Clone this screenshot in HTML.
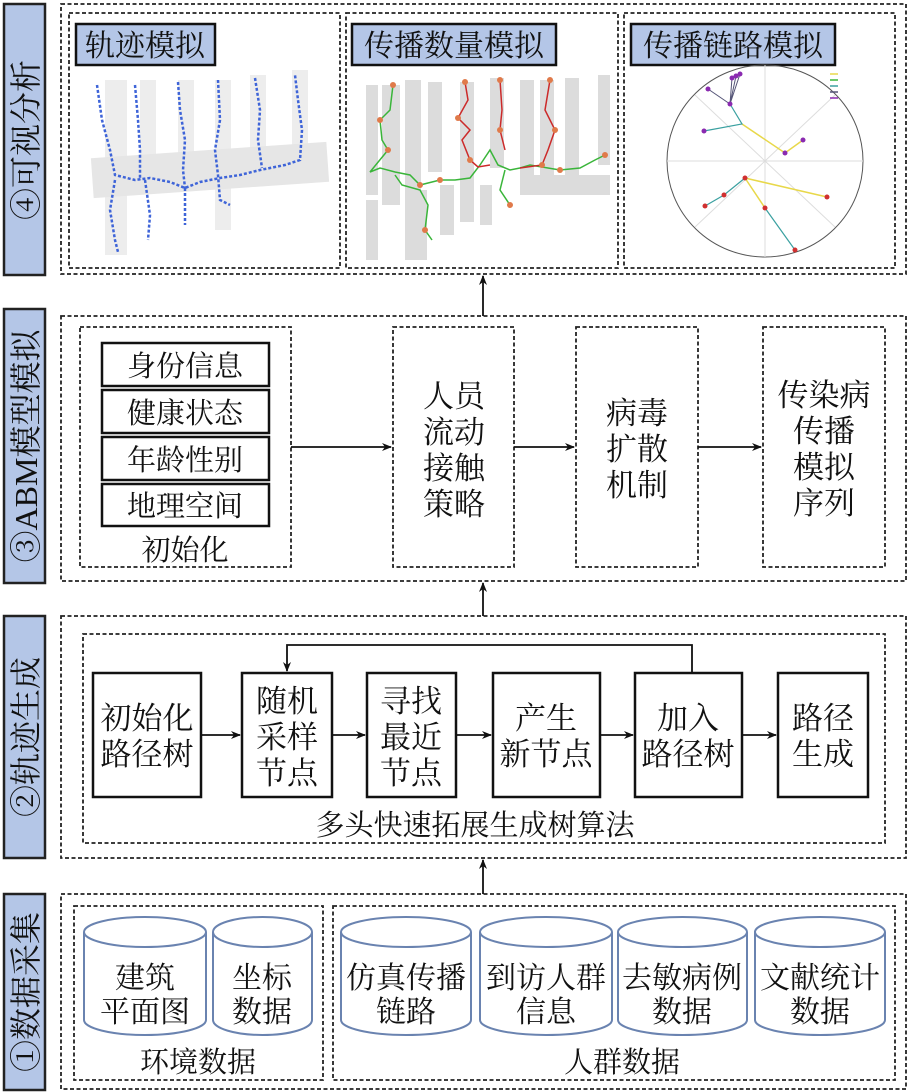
<!DOCTYPE html>
<html><head><meta charset="utf-8"><style>
html,body{margin:0;padding:0;background:#fff}
svg{display:block}
text{font-family:"Liberation Serif","Noto Serif CJK SC",serif;fill:#111}
</style></head><body>
<svg width="909" height="1092" viewBox="0 0 909 1092" xmlns="http://www.w3.org/2000/svg">
<defs>
<marker id="ah" markerWidth="10" markerHeight="8" refX="9" refY="4" orient="auto" markerUnits="userSpaceOnUse">
<path d="M0,0 L10,4 L0,8 L3,4 Z" fill="#111"/></marker>
</defs>
<g fill="#b4c6e7" stroke="#222" stroke-width="2.5">
<rect x="4" y="4" width="41" height="271"/>
<rect x="4" y="309" width="41" height="274"/>
<rect x="4" y="616" width="41" height="242"/>
<rect x="4" y="894" width="41" height="196"/>
</g>
<g font-size="32">
<text transform="translate(37,140) rotate(-90)" text-anchor="middle">④可视分析</text>
<text transform="translate(37,446) rotate(-90)" text-anchor="middle">③ABM模型模拟</text>
<text transform="translate(37,737) rotate(-90)" text-anchor="middle">②轨迹生成</text>
<text transform="translate(37,992) rotate(-90)" text-anchor="middle">①数据采集</text>
</g>
<g fill="none" stroke="#222" stroke-width="1.8" stroke-dasharray="4,2.5">
<rect x="61" y="4" width="845" height="270"/>
<rect x="69" y="13" width="271" height="255"/>
<rect x="346" y="13" width="272" height="255"/>
<rect x="624" y="13" width="271" height="255"/>
<rect x="61" y="316" width="845" height="265"/>
<rect x="80" y="327" width="211" height="240"/>
<rect x="393" y="327" width="121" height="240"/>
<rect x="576" y="327" width="122" height="240"/>
<rect x="763" y="327" width="122" height="240"/>
<rect x="61" y="616" width="845" height="242"/>
<rect x="83" y="634" width="802" height="209"/>
<rect x="61" y="894" width="845" height="195"/>
<rect x="74" y="906" width="249" height="174"/>
<rect x="333" y="906" width="562" height="174"/>
</g>
<g fill="#b4c6e7" stroke="#111" stroke-width="2.5">
<rect x="76" y="24" width="139" height="41"/>
<rect x="352" y="24" width="204" height="41"/>
<rect x="631" y="24" width="204" height="41"/>
</g>
<g font-size="30">
<text x="145" y="56" text-anchor="middle">轨迹模拟</text>
<text x="454" y="56" text-anchor="middle">传播数量模拟</text>
<text x="733" y="56" text-anchor="middle">传播链路模拟</text>
</g>
<!-- image 1 -->
<g fill="#e6e6e6">
<rect x="92" y="150" width="236" height="40" transform="rotate(-4 210 170)"/>
<rect x="105" y="80" width="22" height="175" opacity=".7"/>
<rect x="140" y="80" width="16" height="95" opacity=".7"/>
<rect x="178" y="80" width="16" height="95" opacity=".7"/>
<rect x="215" y="80" width="16" height="150" opacity=".7"/>
<rect x="250" y="75" width="16" height="90" opacity=".7"/>
<rect x="292" y="70" width="16" height="95" opacity=".7"/>
</g>
<g fill="none" stroke="#3e64d8" stroke-width="2.5" stroke-dasharray="3,2">
<polyline points="97,85 102,120 110,150 115,175 135,180 150,178 170,182 185,188 200,182 220,178 240,175 260,170 285,165 300,160 302,130 298,100 295,75"/>
<polyline points="135,85 138,120 140,150 140,180"/>
<polyline points="178,82 180,110 185,140 183,170 185,188"/>
<polyline points="218,80 220,120 215,150 218,175 220,200 230,205"/>
<polyline points="255,78 260,110 258,140 262,168"/>
<polyline points="115,180 110,210 115,240 118,252"/>
<polyline points="145,180 150,215 148,240"/>
<polyline points="185,188 185,225"/>
</g>
<!-- image 2 -->
<g fill="#dcdcdc">
<rect x="366" y="85" width="12" height="110"/><rect x="382" y="85" width="18" height="120"/>
<rect x="405" y="80" width="16" height="130"/><rect x="428" y="82" width="14" height="90"/>
<rect x="460" y="82" width="14" height="140"/><rect x="490" y="78" width="14" height="90"/>
<rect x="520" y="80" width="14" height="110"/><rect x="540" y="80" width="14" height="100"/>
<rect x="565" y="78" width="14" height="110"/><rect x="598" y="75" width="12" height="90"/>
<rect x="366" y="200" width="12" height="60"/><rect x="405" y="190" width="22" height="70"/>
<rect x="440" y="185" width="14" height="50"/><rect x="480" y="185" width="12" height="40"/>
<rect x="520" y="175" width="90" height="20"/>
</g>
<g fill="none" stroke-width="1.5">
<polyline stroke="#3ab53a" points="393,85 390,110 380,120 382,140 388,150 370,172 380,168 395,172 410,175 420,185 440,180 455,180 470,178 480,165 490,150 498,165 510,170 520,168 530,165 560,170 580,168 595,160 605,155"/>
<polyline stroke="#3ab53a" points="395,175 402,185 420,190 428,205 425,230 432,240"/>
<polyline stroke="#3ab53a" points="505,170 500,190 510,205"/>
<polyline stroke="#cc2a2a" points="465,82 468,100 458,118 470,130 462,140 470,160 478,167 490,165"/>
<polyline stroke="#cc2a2a" points="500,80 502,110 500,130 505,150"/>
<polyline stroke="#cc2a2a" points="550,80 545,110 555,130 548,150 542,165 520,168"/>
</g>
<g fill="#e07a4a">
<circle cx="393" cy="85" r="3"/><circle cx="380" cy="120" r="3"/><circle cx="388" cy="150" r="3"/><circle cx="420" cy="185" r="3"/><circle cx="440" cy="180" r="3"/><circle cx="465" cy="82" r="3"/><circle cx="458" cy="118" r="3"/><circle cx="470" cy="160" r="3"/><circle cx="500" cy="80" r="3"/><circle cx="500" cy="130" r="3"/><circle cx="550" cy="80" r="3"/><circle cx="555" cy="130" r="3"/><circle cx="542" cy="165" r="3"/><circle cx="425" cy="230" r="3"/><circle cx="605" cy="155" r="3"/><circle cx="560" cy="170" r="3"/><circle cx="510" cy="205" r="3"/>
</g>
<!-- image 3 -->
<g fill="none">
<ellipse cx="765" cy="161" rx="98" ry="96" stroke="#555" stroke-width="1"/>
<g stroke="#ddd" stroke-width="1"><line x1="667" y1="161" x2="863" y2="161"/><line x1="765" y1="65" x2="765" y2="257"/><line x1="695" y1="95" x2="835" y2="227"/><line x1="695" y1="227" x2="835" y2="95"/></g>
<polyline stroke="#e8d84a" stroke-width="1.5" points="742,124 785,153 803,140"/>
<polyline stroke="#e8d84a" stroke-width="1.5" points="745,178 827,197"/>
<polyline stroke="#e8d84a" stroke-width="1.5" points="745,178 765,208"/>
<polyline stroke="#3aa0a0" stroke-width="1.2" points="730,104 742,124 704,131"/>
<polyline stroke="#3aa0a0" stroke-width="1.2" points="765,208 795,250"/>
<polyline stroke="#3aa0a0" stroke-width="1.2" points="745,178 724,195 705,206"/>
<polyline stroke="#557" stroke-width="1" points="708,89 730,104 732,78 730,104 736,76 730,104 740,74"/>
</g>
<g fill="#8a2ab0"><circle cx="708" cy="89" r="2.5"/><circle cx="732" cy="78" r="2.5"/><circle cx="736" cy="76" r="2.5"/><circle cx="740" cy="74" r="2.5"/><circle cx="730" cy="104" r="2.5"/><circle cx="704" cy="131" r="2.5"/><circle cx="803" cy="140" r="2.5"/><circle cx="785" cy="153" r="2.5"/></g>
<g fill="#d03030"><circle cx="745" cy="178" r="2.5"/><circle cx="724" cy="195" r="2.5"/><circle cx="705" cy="206" r="2.5"/><circle cx="827" cy="197" r="2.5"/><circle cx="765" cy="208" r="2.5"/><circle cx="795" cy="250" r="2.5"/></g>
<g stroke-width="1.5"><line x1="830" y1="74" x2="838" y2="74" stroke="#e8d84a"/><line x1="830" y1="80" x2="838" y2="80" stroke="#3ab53a"/><line x1="830" y1="86" x2="838" y2="86" stroke="#3aa0a0"/><line x1="830" y1="92" x2="838" y2="92" stroke="#557"/><line x1="830" y1="98" x2="838" y2="98" stroke="#8a2ab0"/></g>
<!-- arrows -->
<g stroke="#111" stroke-width="1.8" fill="none" marker-end="url(#ah)">
<line x1="483" y1="316" x2="483" y2="276"/>
<line x1="483" y1="616" x2="483" y2="583"/>
<line x1="483" y1="894" x2="483" y2="860"/>
<line x1="291" y1="447" x2="391" y2="447"/>
<line x1="514" y1="447" x2="574" y2="447"/>
<line x1="698" y1="447" x2="761" y2="447"/>
<line x1="201" y1="735" x2="240" y2="735"/>
<line x1="332" y1="735" x2="365" y2="735"/>
<line x1="456" y1="735" x2="491" y2="735"/>
<line x1="600" y1="735" x2="633" y2="735"/>
<line x1="742" y1="735" x2="776" y2="735"/>
<polyline points="692,673 692,645 287,645 287,671"/>
</g>
<g fill="#fff" stroke="#111" stroke-width="2.5">
<rect x="102" y="343" width="167" height="43"/>
<rect x="102" y="390" width="167" height="43"/>
<rect x="102" y="437" width="167" height="43"/>
<rect x="102" y="484" width="167" height="42"/>
</g>
<g font-size="29" text-anchor="middle">
<text x="185" y="376">身份信息</text>
<text x="185" y="423">健康状态</text>
<text x="185" y="470">年龄性别</text>
<text x="185" y="516">地理空间</text>
<text x="185" y="560">初始化</text>
</g>
<g font-size="31" text-anchor="middle">
<text x="454" y="407">人员</text><text x="454" y="443">流动</text><text x="454" y="479">接触</text><text x="454" y="515">策略</text>
<text x="637" y="424">病毒</text><text x="637" y="460">扩散</text><text x="637" y="496">机制</text>
<text x="824" y="406">传染病</text><text x="824" y="442">传播</text><text x="824" y="478">模拟</text><text x="824" y="514">序列</text>
</g>
<g fill="#fff" stroke="#111" stroke-width="2.5">
<rect x="93" y="673" width="108" height="124"/>
<rect x="242" y="673" width="90" height="124"/>
<rect x="367" y="673" width="89" height="124"/>
<rect x="493" y="673" width="107" height="124"/>
<rect x="635" y="673" width="107" height="124"/>
<rect x="778" y="673" width="90" height="124"/>
</g>
<g font-size="31" text-anchor="middle">
<text x="147" y="729">初始化</text><text x="147" y="765">路径树</text>
<text x="287" y="712">随机</text><text x="287" y="748">采样</text><text x="287" y="784">节点</text>
<text x="411" y="712">寻找</text><text x="411" y="748">最近</text><text x="411" y="784">节点</text>
<text x="546" y="729">产生</text><text x="546" y="765">新节点</text>
<text x="688" y="729">加入</text><text x="688" y="765">路径树</text>
<text x="823" y="729">路径</text><text x="823" y="765">生成</text>
<text x="475" y="835" font-size="29">多头快速拓展生成树算法</text>
</g>
<g fill="#fff" stroke="#6a83b0" stroke-width="2">
<path d="M84,932 v88 a61,15 0 0 0 122,0 v-88"/><ellipse cx="145" cy="932" rx="61" ry="15"/>
<path d="M213,932 v88 a49.5,15 0 0 0 99,0 v-88"/><ellipse cx="262.5" cy="932" rx="49.5" ry="15"/>
<path d="M341,932 v88 a65,15 0 0 0 130,0 v-88"/><ellipse cx="406" cy="932" rx="65" ry="15"/>
<path d="M480,932 v88 a66,15 0 0 0 132,0 v-88"/><ellipse cx="546" cy="932" rx="66" ry="15"/>
<path d="M618,932 v88 a64.5,15 0 0 0 129,0 v-88"/><ellipse cx="682.5" cy="932" rx="64.5" ry="15"/>
<path d="M755,932 v88 a65,15 0 0 0 130,0 v-88"/><ellipse cx="820" cy="932" rx="65" ry="15"/>
</g>
<g font-size="30" text-anchor="middle">
<text x="145" y="988">建筑</text><text x="145" y="1022">平面图</text>
<text x="262" y="988">坐标</text><text x="262" y="1022">数据</text>
<text x="406" y="988">仿真传播</text><text x="406" y="1022">链路</text>
<text x="546" y="988">到访人群</text><text x="546" y="1022">信息</text>
<text x="682" y="988">去敏病例</text><text x="682" y="1022">数据</text>
<text x="820" y="988">文献统计</text><text x="820" y="1022">数据</text>
<text x="198" y="1072" font-size="29">环境数据</text>
<text x="622" y="1072" font-size="29">人群数据</text>
</g>
</svg>
</body></html>
